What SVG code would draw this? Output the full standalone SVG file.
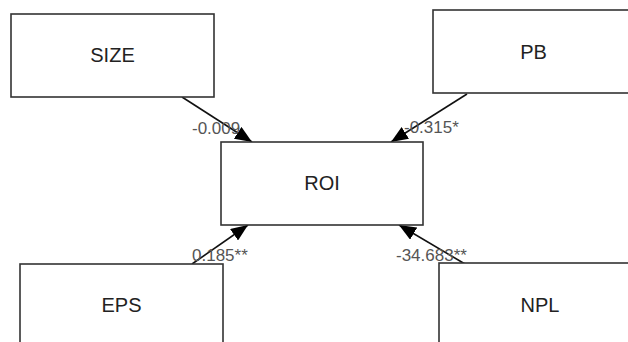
<svg xmlns="http://www.w3.org/2000/svg" width="628" height="342" viewBox="0 0 628 342">
<style>
.box{fill:#fff;stroke:#333;stroke-width:1.6}
.nl{font-family:"Liberation Sans",Arial,sans-serif;font-size:20px;fill:#222;text-anchor:middle}
.el{font-family:"Liberation Sans",Arial,sans-serif;font-size:17px;fill:#555}
.cn{stroke:#111;stroke-width:1.6;fill:none;marker-end:url(#ah)}
</style>
<defs>
<marker id="ah" markerUnits="userSpaceOnUse" markerWidth="18" markerHeight="14" refX="17" refY="7" orient="auto">
<path d="M0,0 L17,7 L0,14 Z" fill="#000"/>
</marker>
</defs>
<rect width="628" height="342" fill="#fff"/>
<g id="connectors">
<line class="cn" x1="182" y1="97" x2="252" y2="142"/>
<line class="cn" x1="467" y1="94" x2="391" y2="142"/>
<line class="cn" x1="192" y1="264" x2="248" y2="225"/>
<line class="cn" x1="465" y1="264" x2="399" y2="225"/>
<text class="el" x="192" y="134">-0.009</text>
<text class="el" x="404" y="133">-0.315*</text>
<text class="el" x="192" y="261">0.185**</text>
<text class="el" x="396" y="261">-34.683**</text>
</g>
<g id="SIZE"><rect class="box" x="11" y="14" width="203" height="83"/><text class="nl" x="112.5" y="62">SIZE</text></g>
<g id="PB"><rect class="box" x="433" y="10" width="203" height="83"/><text class="nl" x="533.5" y="59">PB</text></g>
<g id="ROI"><rect class="box" x="221" y="142" width="202" height="83"/><text class="nl" x="322" y="190">ROI</text></g>
<g id="EPS"><rect class="box" x="20" y="264" width="203" height="83"/><text class="nl" x="121.5" y="312">EPS</text></g>
<g id="NPL"><rect class="box" x="439" y="263" width="203" height="83"/><text class="nl" x="540" y="312">NPL</text></g>
</svg>
